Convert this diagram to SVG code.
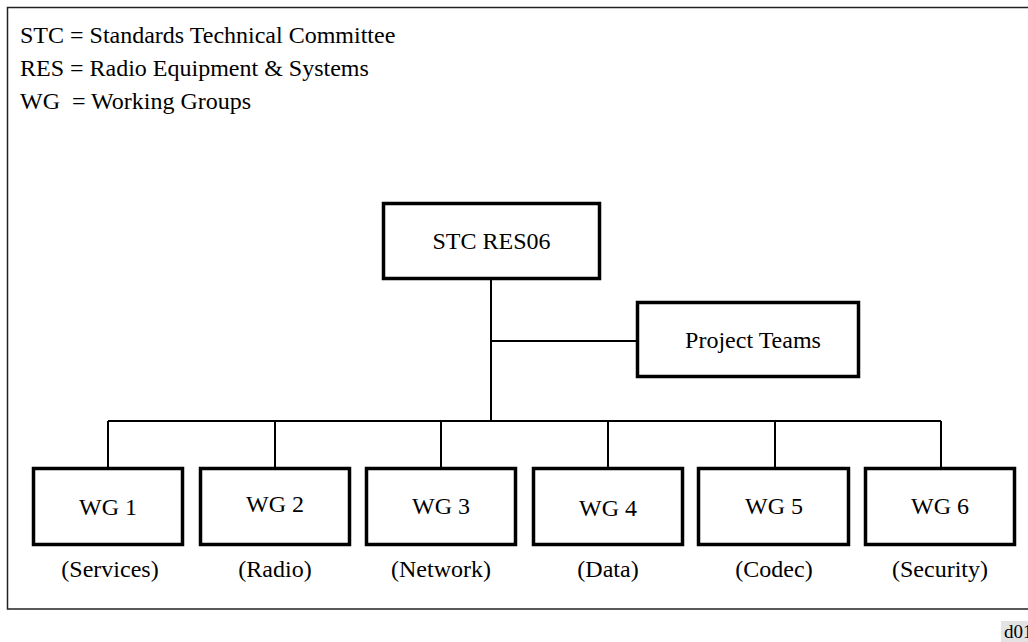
<svg xmlns="http://www.w3.org/2000/svg" width="1028" height="642" viewBox="0 0 1028 642">
  <style>
    .box { fill: #ffffff; stroke: #000000; stroke-width: 3.5; }
    .wire { fill: none; stroke: #000000; stroke-width: 2; }
    .frame { fill: #ffffff; stroke: #222222; stroke-width: 1.5; }
    text { font-family: "Liberation Serif", "Times New Roman", serif; font-size: 24px; fill: #000000; }
    .mid { text-anchor: middle; }
    .tag { font-size: 19px; }
  </style>

  <rect x="0" y="0" width="1028" height="642" fill="#ffffff"/>
  <!-- outer frame, open past the right edge -->
  <rect class="frame" x="7.5" y="7.5" width="1040" height="601.5"/>

  <!-- legend -->
  <g id="legend">
    <text x="20" y="43">STC</text><text x="70" y="43">= Standards Technical Committee</text>
    <text x="20" y="76">RES</text><text x="70" y="76">= Radio Equipment &amp; Systems</text>
    <text x="20" y="109">WG</text><text x="72" y="109">= Working Groups</text>
  </g>

  <!-- connectors -->
  <g id="connectors" class="wire">
    <line x1="491" y1="280" x2="491" y2="421"/>
    <line x1="491" y1="341" x2="636" y2="341"/>
    <line x1="108" y1="421" x2="941" y2="421"/>
    <line x1="108" y1="421" x2="108" y2="467"/>
    <line x1="275" y1="421" x2="275" y2="467"/>
    <line x1="441" y1="421" x2="441" y2="467"/>
    <line x1="608" y1="421" x2="608" y2="467"/>
    <line x1="775" y1="421" x2="775" y2="467"/>
    <line x1="941" y1="421" x2="941" y2="467"/>
  </g>

  <g id="stc-res06">
    <rect class="box" x="383.5" y="203.5" width="216" height="75"/>
    <text class="mid" x="491.5" y="249">STC RES06</text>
  </g>

  <g id="project-teams">
    <rect class="box" x="637.5" y="302.5" width="221" height="74"/>
    <text class="mid" x="753" y="348">Project Teams</text>
  </g>

  <g id="wg1">
    <rect class="box" x="33.5" y="468.5" width="149" height="76"/>
    <text class="mid" x="108" y="515">WG 1</text>
    <text class="mid" x="110" y="577">(Services)</text>
  </g>
  <g id="wg2">
    <rect class="box" x="200.5" y="468.5" width="149" height="76"/>
    <text class="mid" x="275" y="512">WG 2</text>
    <text class="mid" x="275" y="577">(Radio)</text>
  </g>
  <g id="wg3">
    <rect class="box" x="366.5" y="468.5" width="149" height="76"/>
    <text class="mid" x="441" y="514">WG 3</text>
    <text class="mid" x="441" y="577">(Network)</text>
  </g>
  <g id="wg4">
    <rect class="box" x="533.5" y="468.5" width="149" height="76"/>
    <text class="mid" x="608" y="516">WG 4</text>
    <text class="mid" x="608" y="577">(Data)</text>
  </g>
  <g id="wg5">
    <rect class="box" x="698.5" y="468.5" width="150" height="76"/>
    <text class="mid" x="774" y="514">WG 5</text>
    <text class="mid" x="774" y="577">(Codec)</text>
  </g>
  <g id="wg6">
    <rect class="box" x="865.5" y="468.5" width="149" height="76"/>
    <text class="mid" x="940" y="514">WG 6</text>
    <text class="mid" x="940" y="577">(Security)</text>
  </g>

  <!-- figure tag, bottom right -->
  <g id="figure-tag">
    <rect x="1001" y="621" width="30" height="22" fill="#e3e3e3"/>
    <text class="tag" x="1004" y="638">d01</text>
  </g>
</svg>
